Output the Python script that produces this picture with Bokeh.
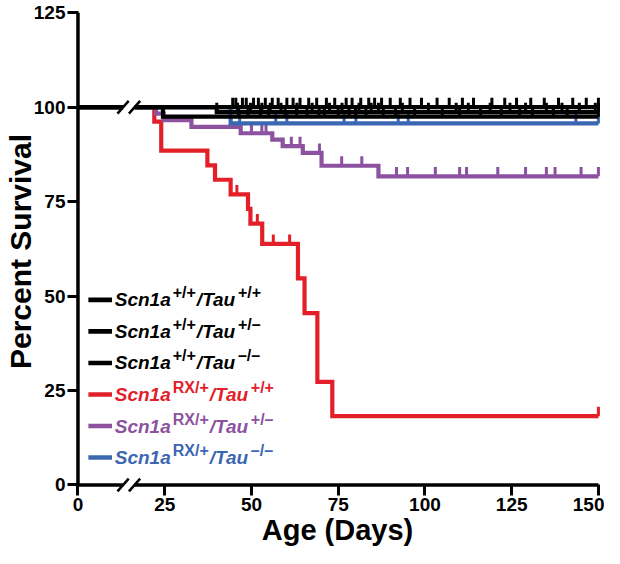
from bokeh.plotting import figure
from bokeh.models import Range1d, FixedTicker
from bokeh.core.properties import value
from bokeh.embed import file_html
from bokeh.resources import INLINE

# ---------------- data ----------------
x_ticks = [0, 25, 50, 75, 100, 125, 150]
y_ticks = [0, 25, 50, 75, 100, 125]

# Scn1a RX/+ / Tau +/+  (red)
red_days = [0, 22.0, 24.0, 37.3, 39.5, 44.0, 49.0, 49.7, 53.1, 63.4, 65.3, 69.0, 73.3, 150]
red_surv = [100, 96.2, 88.5, 84.6, 80.8, 76.9, 73.1, 69.2, 63.8, 54.7, 45.5, 27.3, 18.2, 18.2]
red_cens = [45.8, 51.7, 56.3, 61.0, 150]

# Scn1a RX/+ / Tau +/-  (purple)
pur_days = [0, 22.5, 24.7, 32.7, 46.9, 56.0, 59.0, 64.8, 70.2, 86.6, 150]
pur_surv = [100, 98.3, 96.6, 94.8, 93.1, 91.4, 89.7, 87.9, 84.5, 81.7, 81.7]
pur_cens = [50.0, 53.0, 54.2, 61.5, 64.0, 69.6, 76.0, 81.8, 91.8, 95.0, 103.0, 110.0,
            112.0, 121.0, 129.0, 135.0, 137.5, 145.0, 150]

# Scn1a RX/+ / Tau -/-  (blue)
blu_days = [0, 44.0, 150]
blu_surv = [100, 95.7, 95.7]
blu_cens = [46.6, 57.0, 60.2, 76.7, 80.1, 92.3, 95.2, 143.5, 150]

# Scn1a +/+ groups (black)
bkA_days = [0, 150]
bkA_surv = [100, 100]
bkA_cens = [44.6, 45.5, 47.4, 48.5, 50.6, 52.0, 54.0, 56.0, 57.7, 60.2, 62.0, 64.0, 66.5,
            68.8, 71.6, 74.0, 77.3, 79.0, 81.5, 83.8, 85.5, 87.5, 90.0, 92.9, 95.7, 99.0,
            103.5, 107.0, 110.8, 114.0, 119.3, 123.0, 126.4, 130.5, 134.4, 138.5, 142.6,
            146.5, 150]
bkB_days = [0, 24.5, 150]
bkB_surv = [100, 97.5, 97.5]
bkB_cens = [46.3, 49.0, 52.6, 55.0, 59.7, 63.0, 66.0, 69.5, 71.0, 75.0, 78.1, 80.0, 83.0,
            88.0, 91.5, 97.0, 105.0, 110.0, 116.0, 122.0, 127.3, 131.0, 137.0, 141.0, 150]
bkC_days = [0, 40.0, 150]
bkC_surv = [100, 98.7, 98.7]
bkC_cens = [40.0, 46.0, 49.7, 53.0, 55.4, 58.5, 63.1, 67.5, 72.5, 76.1, 81.0, 84.5, 86.6,
            93.5, 101.0, 109.0, 112.5, 118.8, 124.5, 129.0, 135.0, 139.5, 144.5, 149.1, 150]

leg_sup1 = ["+/+", "+/+", "+/+", "RX/+", "RX/+", "RX/+"]
leg_sup2 = ["+/+", "+/\u2013", "\u2013/\u2013", "+/+", "+/\u2013", "\u2013/\u2013"]

BLACK, RED, PURPLE, BLUE = "#000000", "#E3202A", "#8C52A0", "#3B67B2"
leg_colors = [BLACK, BLACK, BLACK, RED, PURPLE, BLUE]

# ---------------- figure ----------------
FONT = "Liberation Sans"
p = figure(width=604, height=548, output_backend="svg", toolbar_location=None,
           x_range=Range1d(-1, 150.6), y_range=Range1d(-2, 125.6),
           min_border_left=60, min_border_right=4, min_border_top=10, min_border_bottom=50)
p.outline_line_color = None
p.grid.visible = False
p.background_fill_color = "white"
p.border_fill_color = "white"

for ax in (p.xaxis[0], p.yaxis[0]):
    ax.axis_line_color = None
    ax.minor_tick_line_color = None
    ax.major_tick_line_width = 3
    ax.major_tick_line_color = "black"
    ax.major_label_text_font = FONT
    ax.major_label_text_font_style = "bold"
    ax.major_label_text_font_size = "19px"
    ax.major_label_text_color = "black"
    ax.axis_label_text_font = FONT
    ax.axis_label_text_font_style = "bold"
    ax.axis_label_text_color = "black"

p.xaxis.axis_label_text_font_size = "29px"
p.yaxis.axis_label_text_font_size = "30px"
p.xaxis.ticker = FixedTicker(ticks=x_ticks)
p.yaxis.ticker = FixedTicker(ticks=y_ticks)
p.xaxis.axis_label = "Age (Days)"
p.yaxis.axis_label = "Percent Survival"
p.xaxis.major_tick_in = 8
p.xaxis.major_tick_out = 3
p.xaxis.major_label_standoff = 2
p.xaxis.axis_label_standoff = 0
p.yaxis.major_tick_in = 4
p.yaxis.major_tick_out = 7
p.yaxis.major_label_standoff = 2
p.yaxis.axis_label_standoff = -6

LW = 4.2
TICK_H = 2.5


def surv_at(days, surv, t):
    v = surv[0]
    for d, s in zip(days, surv):
        if d <= t:
            v = s
    return v


def curve(days, surv, cens, color):
    p.step(days, surv, mode="after", line_color=color, line_width=LW, line_join="miter")
    ys = [surv_at(days, surv, c) for c in cens]
    p.segment(x0=cens, y0=ys, x1=cens, y1=[y + TICK_H for y in ys],
              line_color=color, line_width=3)


curve(red_days, red_surv, red_cens, RED)
curve(pur_days, pur_surv, pur_cens, PURPLE)
curve(blu_days, blu_surv, blu_cens, BLUE)
curve(bkB_days, bkB_surv, bkB_cens, BLACK)
curve(bkC_days, bkC_surv, bkC_cens, BLACK)
curve(bkA_days, bkA_surv, bkA_cens, BLACK)

# own axis lines (so the break can be drawn over them)
p.line([0, 0, x_ticks[-1]], [y_ticks[-1], 0, 0], line_color="black", line_width=3.5,
       line_join="miter")

# axis break "//" on the x axis and on the 100 % line
brk = [13.0, 16.3]
for yb in (0, 100):
    p.quad(left=brk[0], right=brk[1], bottom=yb - 1.2, top=yb + 1.2,
           fill_color="white", line_color=None)
    p.scatter(x=brk, y=[yb, yb], marker="dash", size=17, angle=0.85,
              line_color="black", line_width=2.5)

# ---------------- legend (manual, with superscripts) ----------------
W_BOLD = {'S': 667, 'c': 556, 'n': 611, '1': 556, 'a': 556, '/': 278, 'T': 611, 'u': 611,
          '+': 584, '\u2013': 556, 'R': 722, 'X': 667}


def tw(s, size):
    return sum(W_BOLD[ch] for ch in s) * size / 1000.0


MAIN, SUP = 19, 16
rows = [49.0 - 8.35 * i for i in range(len(leg_sup1))]
p.segment(x0=[3.0] * len(rows), x1=[9.8] * len(rows), y0=rows, y1=rows,
          line_color=leg_colors, line_width=LW + 0.4)
tx = [10.6] * len(rows)
off_sup1 = tw("Scn1a", MAIN) + 2
off_tau = [off_sup1 + tw(s, SUP) + 1 for s in leg_sup1]
off_sup2 = [o + tw("/Tau", MAIN) + 2 for o in off_tau]

common = dict(text_font=value(FONT), text_baseline="middle", text_align="left")
p.text(x=tx, y=rows, text=["Scn1a"] * len(rows), x_offset=0, text_color=leg_colors,
       text_font_style="bold italic", text_font_size=f"{MAIN}px", **common)
p.text(x=tx, y=rows, text=leg_sup1, x_offset=[off_sup1] * len(rows), y_offset=-7,
       text_color=leg_colors, text_font_style="bold", text_font_size=f"{SUP}px", **common)
p.text(x=tx, y=rows, text=["/Tau"] * len(rows), x_offset=off_tau, text_color=leg_colors,
       text_font_style="bold italic", text_font_size=f"{MAIN}px", **common)
p.text(x=tx, y=rows, text=leg_sup2, x_offset=off_sup2, y_offset=-7,
       text_color=leg_colors, text_font_style="bold", text_font_size=f"{SUP}px", **common)

open("out.html", "w").write(file_html(p, INLINE))
